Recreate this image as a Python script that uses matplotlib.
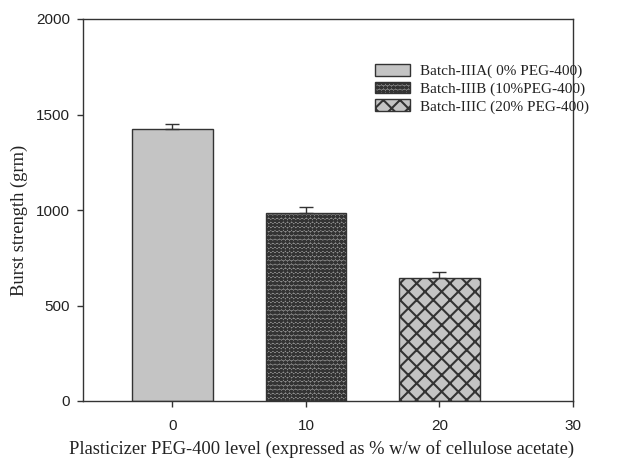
import matplotlib.pyplot as plt
import matplotlib as mpl

levels = [0, 10, 20]
strength = [1424, 982, 645]
err_up = [26, 36, 32]
labels = ["Batch-IIIA( 0% PEG-400)", "Batch-IIIB (10%PEG-400)", "Batch-IIIC (20% PEG-400)"]
faces = ["#c4c4c4", "#8e8e8e", "#c4c4c4"]
hatches = [None, "oooo", "xx"]

mpl.rcParams['hatch.linewidth'] = 1.5
mpl.rcParams['hatch.color'] = '#222222'
serif = ['Liberation Serif', 'DejaVu Serif']
sans = ['Liberation Sans', 'DejaVu Sans']

W, H = 640, 459
fig = plt.figure(figsize=(W / 100, H / 100), dpi=100)
ax = fig.add_axes([83 / W, 1 - 401 / H, (573 - 83) / W, (401 - 19) / H])

for x, v, e, lab, fc, h in zip(levels, strength, err_up, labels, faces, hatches):
    ax.bar(x, v, width=6, color=fc, edgecolor='#333333', linewidth=1.0,
           hatch=h, label=lab, zorder=2)
    ax.errorbar(x, v, yerr=[[0], [e]], fmt='none', ecolor='#333333',
                elinewidth=1.0, capsize=5, capthick=1.0, zorder=3)

ax.set_xlim(-6.7, 30)
ax.set_ylim(0, 2000)
ax.set_xticks([0, 10, 20, 30])
ax.set_yticks([0, 500, 1000, 1500, 2000])
for s in ax.spines.values():
    s.set_color('#333333')
    s.set_linewidth(1.0)
ax.tick_params(direction='out', length=4.3, width=1.0, color='#333333')
ax.tick_params(axis='x', pad=9)
ax.tick_params(axis='y', pad=5)
for t in ax.get_xticklabels() + ax.get_yticklabels():
    t.set_family(sans)
    t.set_fontsize(11)
    t.set_color('#222222')

fig.text(322 / W, 1 - 449 / H,
         "Plasticizer PEG-400 level (expressed as % w/w of cellulose acetate)",
         family=serif, fontsize=13.3, color='#222222', ha='center', va='center')
fig.text(19 / W, 1 - 220 / H, "Burst strength (grm)", family=serif,
         fontsize=13.3, color='#222222', rotation=90, ha='center', va='center')

leg = fig.legend(*ax.get_legend_handles_labels(), loc='upper left',
                 bbox_to_anchor=(375 / W, 1 - 64 / H), frameon=False,
                 borderpad=0, borderaxespad=0,
                 prop={'family': serif, 'size': 11}, handlelength=2.3,
                 handleheight=0.8, labelspacing=0.22, handletextpad=0.65)
for t in leg.get_texts():
    t.set_color('#222222')

fig.savefig('out.png', dpi=100)
